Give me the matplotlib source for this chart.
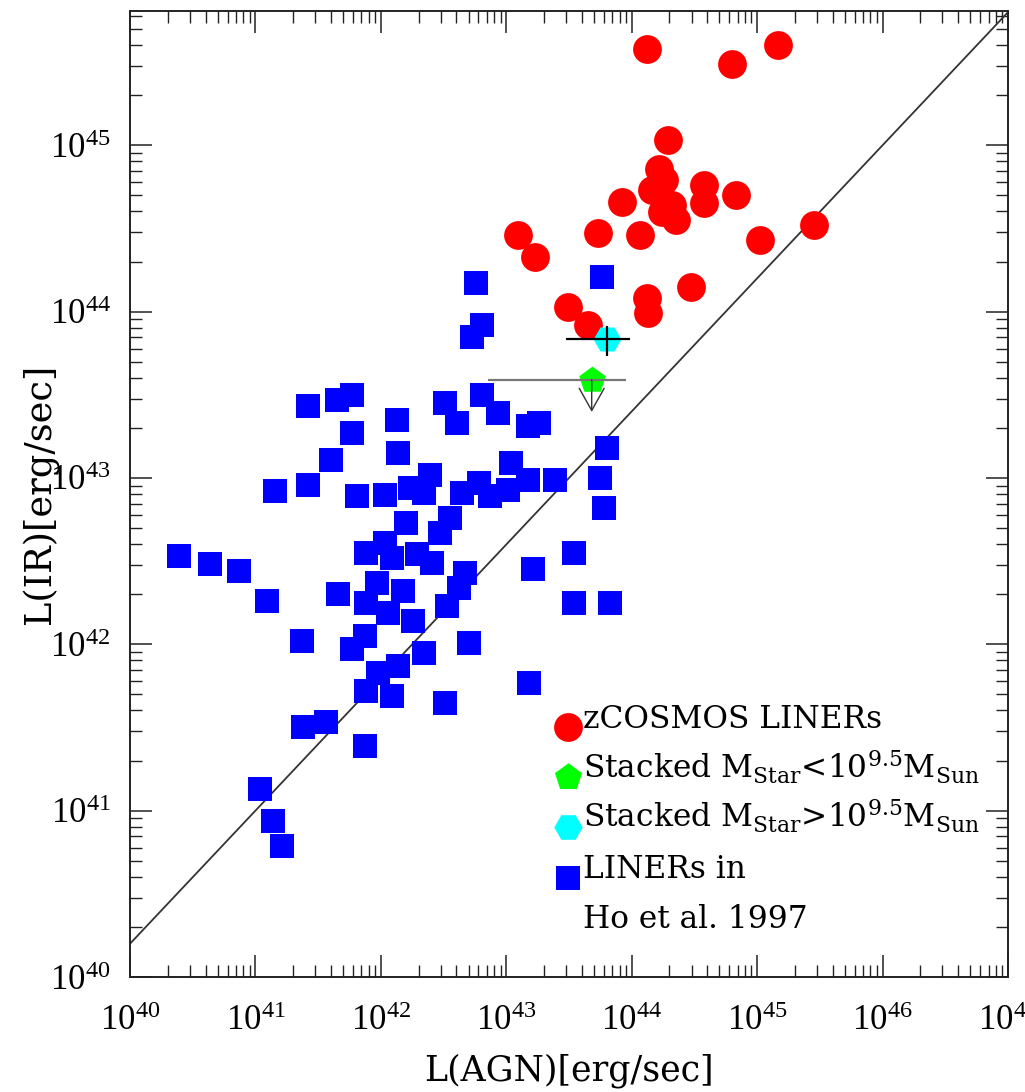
import numpy as np
import matplotlib
matplotlib.use("Agg")
import matplotlib.pyplot as plt
from matplotlib.ticker import LogLocator, LogFormatterMathtext, NullFormatter

plt.rcParams['font.family'] = ['DejaVu Serif']
plt.rcParams['mathtext.fontset'] = 'dejavuserif'

# ---------------- data (log10 of luminosity in erg/s) ----------------
zcosmos_log_agn = [44.12, 44.80, 45.17, 44.29, 44.22, 44.26, 44.16, 44.32, 44.24,
                   44.58, 44.58, 44.83, 43.92, 44.35, 43.09, 43.23, 43.73, 44.07,
                   45.02, 45.45, 44.47, 44.12, 44.13, 43.49, 43.65]
zcosmos_log_ir = [45.58, 45.49, 45.60, 45.03, 44.86, 44.79, 44.73, 44.64, 44.60,
                  44.76, 44.65, 44.70, 44.66, 44.55, 44.46, 44.33, 44.47, 44.46,
                  44.43, 44.52, 44.15, 44.08, 43.99, 44.03, 43.92]

ho_log_agn = [41.42, 41.65, 41.77, 41.77, 41.60, 41.42, 41.16, 41.81, 42.03, 42.13,
              42.14, 40.39, 40.64, 40.87, 41.09, 41.66, 41.88, 42.03, 42.09, 41.97,
              41.88, 42.06, 42.76, 42.81, 42.73, 43.76, 42.51, 42.61, 42.81, 42.93,
              43.17, 43.26, 43.80, 43.75, 43.78, 43.39, 43.04, 43.17, 42.78, 42.87,
              43.01, 42.65, 42.39, 42.23, 42.34, 42.20, 42.55, 42.47, 42.29, 42.41,
              42.67, 42.62, 42.53, 42.18, 42.26, 43.21, 43.54, 43.54, 43.83, 42.34,
              42.70, 42.14, 42.09, 42.51, 43.18, 41.37, 41.87, 41.77, 41.98, 41.88,
              41.38, 41.56, 41.87, 41.04, 41.14, 41.21]
ho_log_ir = [43.43, 43.47, 43.50, 43.27, 43.11, 42.96, 42.92, 42.89, 42.90, 43.35,
             43.15, 42.53, 42.48, 42.44, 42.26, 42.30, 42.55, 42.61, 42.52, 42.37,
             42.25, 42.19, 44.17, 43.92, 43.85, 44.21, 43.45, 43.33, 43.50, 43.39,
             43.31, 43.33, 43.18, 43.00, 42.82, 42.99, 43.09, 42.99, 42.97, 42.89,
             42.93, 42.91, 43.02, 42.94, 42.91, 42.73, 42.76, 42.67, 42.54, 42.49,
             42.43, 42.34, 42.23, 42.32, 42.14, 42.45, 42.55, 42.25, 42.25, 41.95,
             42.01, 41.87, 41.69, 41.65, 41.77, 42.02, 42.05, 41.97, 41.83, 41.72,
             41.50, 41.53, 41.39, 41.13, 40.94, 40.79]

# stacked, M_star > 10^9.5 (detection with error bars)
stack_hi_log_agn = 43.805
stack_hi_log_ir = 43.838
stack_hi_agn_range = [43.474, 43.986]
stack_hi_ir_range = [43.732, 43.912]

# stacked, M_star < 10^9.5 (upper limit)
stack_lo_log_agn = 43.681
stack_lo_log_ir = 43.59
stack_lo_agn_range = [42.852, 43.954]
stack_lo_ir_limit = 43.397

# reference relation log L_IR = a log L_AGN + b
relation_slope = 0.8
relation_intercept = 8.2

x_ticks_exp = [40, 41, 42, 43, 44, 45, 46, 47]
y_ticks_exp = [40, 41, 42, 43, 44, 45]

legend_labels = ['zCOSMOS LINERs',
                 r'Stacked M$_{\rm Star}$<10$^{9.5}$M$_{\rm Sun}$',
                 r'Stacked M$_{\rm Star}$>10$^{9.5}$M$_{\rm Sun}$',
                 'LINERs in',
                 'Ho et al. 1997']

RED, GREEN, CYAN, BLUE = '#ff0000', '#00ff00', '#00ffff', '#0000ff'

# ---------------- figure ----------------
fig = plt.figure(figsize=(10.25, 10.92), dpi=100)
ax = fig.add_axes([130/1025, 1-977/1092, 878/1025, 966/1092])
ax.set_xscale('log')
ax.set_yscale('log')

# relation line
lx = np.array([40.0, 47.0])
ax.plot(10**lx, 10**(relation_slope*lx + relation_intercept), color='#333333', lw=1.3, zorder=2)

# Ho et al. squares
ax.scatter(10**np.array(ho_log_agn), 10**np.array(ho_log_ir), marker='s', s=282,
           color=BLUE, linewidths=0, zorder=3)
# zCOSMOS circles
ax.scatter(10**np.array(zcosmos_log_agn), 10**np.array(zcosmos_log_ir), marker='o', s=430,
           color=RED, linewidths=0, zorder=4)

# stacked low mass (upper limit)
ax.scatter([10**stack_lo_log_agn], [10**stack_lo_log_ir], marker='p', s=400,
           color=GREEN, linewidths=0, zorder=5)
ax.hlines(10**stack_lo_log_ir, 10**stack_lo_agn_range[0], 10**stack_lo_agn_range[1],
          color='#777777', lw=1.6, zorder=6)
ax.annotate('', xy=(10**stack_lo_log_agn, 10**stack_lo_ir_limit),
            xytext=(10**stack_lo_log_agn, 10**stack_lo_log_ir),
            arrowprops=dict(arrowstyle='->,head_length=0.8,head_width=0.45',
                            color='#333333', lw=1.0, shrinkA=0, shrinkB=0,
                            mutation_scale=20), zorder=6)

# stacked high mass
ax.scatter([10**stack_hi_log_agn], [10**stack_hi_log_ir], marker='H', s=400,
           color=CYAN, linewidths=0, zorder=5)
ax.hlines(10**stack_hi_log_ir, 10**stack_hi_agn_range[0], 10**stack_hi_agn_range[1],
          color='black', lw=1.6, zorder=6)
ax.vlines(10**stack_hi_log_agn, 10**stack_hi_ir_range[0], 10**stack_hi_ir_range[1],
          color='black', lw=1.6, zorder=6)

# ticks
ax.set_xticks([10.0**e for e in x_ticks_exp])
ax.set_yticks([10.0**e for e in y_ticks_exp])
ax.xaxis.set_minor_locator(LogLocator(base=10, subs=np.arange(2, 10), numticks=200))
ax.yaxis.set_minor_locator(LogLocator(base=10, subs=np.arange(2, 10), numticks=200))
ax.xaxis.set_major_formatter(LogFormatterMathtext())
ax.yaxis.set_major_formatter(LogFormatterMathtext())
ax.xaxis.set_minor_formatter(NullFormatter())
ax.yaxis.set_minor_formatter(NullFormatter())
ax.set_xlim(1e40, 1e47)
ax.set_ylim(1e40, 10**45.807)
ax.tick_params(which='both', direction='in', top=True, right=True, color='#222222')
ax.tick_params(which='major', length=16, width=1.1, labelsize=25,
               labelfontfamily='Liberation Serif')
ax.tick_params(which='minor', length=8.5, width=1.0)
ax.tick_params(axis='x', which='major', pad=20)
ax.tick_params(axis='y', which='major', pad=14)
for sp in ax.spines.values():
    sp.set_linewidth(1.4)
    sp.set_color('#222222')

ax.set_xlabel('L(AGN)[erg/sec]', fontsize=25)
ax.set_ylabel('L(IR)[erg/sec]', fontsize=26.5)
ax.xaxis.label.set_verticalalignment('baseline')
ax.xaxis.set_label_coords(0.5, (977-1081)/966)
ax.yaxis.label.set_verticalalignment('center')
ax.yaxis.set_label_coords((40-130)/878, 0.5)

# legend (drawn manually)
leg_marker_x = (568-130)/878
leg_text_x = (583-130)/878
leg_specs = [('o', RED, 430), ('p', GREEN, 420), ('H', CYAN, 420), ('s', BLUE, 282)]
leg_marker_y = [(977-727)/966, (977-777)/966, (977-827)/966, (977-878)/966]
leg_text_y = [(977-728)/966, (977-779)/966, (977-828)/966, (977-878)/966, (977-928)/966]
for (m, c, s), yy in zip(leg_specs, leg_marker_y):
    ax.scatter([leg_marker_x], [yy], marker=m, s=s, color=c, linewidths=0,
               transform=ax.transAxes, clip_on=False, zorder=7)
for lab, yy in zip(legend_labels, leg_text_y):
    ax.text(leg_text_x, yy, lab, transform=ax.transAxes, fontsize=22.5,
            ha='left', va='baseline', zorder=8)

fig.savefig('out.png', dpi=100)
